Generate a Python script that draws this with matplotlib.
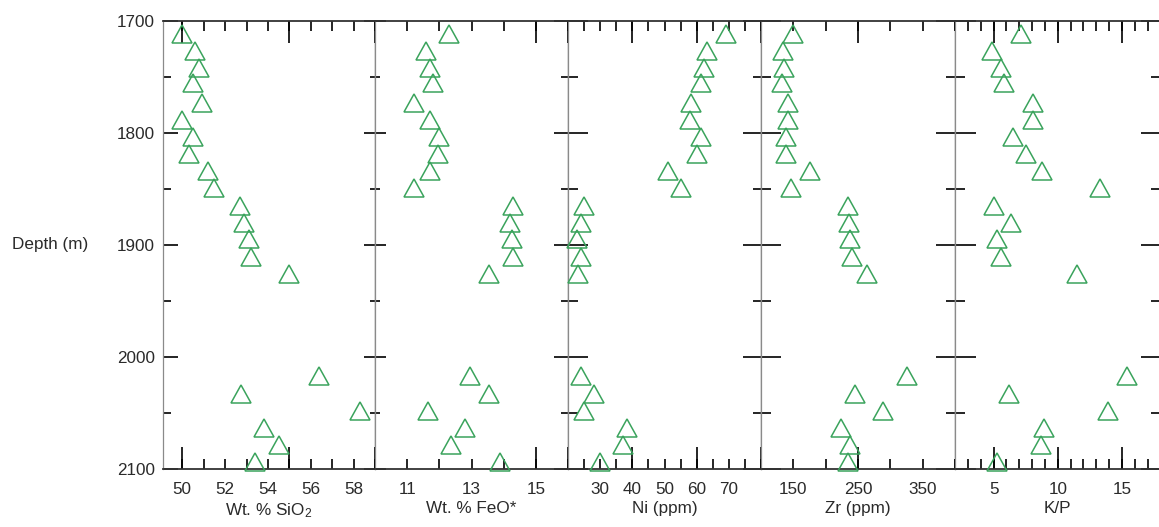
import matplotlib
matplotlib.use('Agg')
import matplotlib.pyplot as plt
from matplotlib.ticker import MultipleLocator, FuncFormatter, NullFormatter
from matplotlib.markers import MarkerStyle
from matplotlib.transforms import Affine2D

plt.rcParams['font.family'] = ['Liberation Sans', 'DejaVu Sans']
plt.rcParams['mathtext.default'] = 'regular'

# sample depths (m), shared by every panel
depth = [1712, 1727, 1742, 1755, 1773, 1788, 1804, 1819, 1834, 1849, 1865,
         1880, 1895, 1911, 1926, 2017, 2033, 2048, 2063, 2079, 2094]

sio2 = [50.0, 50.6, 50.8, 50.5, 50.9, 50.0, 50.5, 50.3, 51.2, 51.5, 52.7,
        52.9, 53.1, 53.2, 55.0, 56.4, 52.75, 58.3, 53.8, 54.5, 53.4]
feo = [12.3, 11.6, 11.7, 11.8, 11.2, 11.7, 12.0, 11.95, 11.7, 11.2, 14.3,
       14.2, 14.25, 14.3, 13.55, 12.95, 13.55, 11.65, 12.8, 12.35, 13.9]
ni = [69.2, 63.2, 62.2, 61.2, 58.1, 58.0, 61.2, 60.2, 51.1, 55.2, 24.9,
      23.9, 22.8, 23.9, 23.1, 24.0, 28.2, 25.1, 38.2, 37.1, 30.0]
zr = [149, 134, 136, 132, 141, 141, 139, 139, 176, 147, 234,
      236, 237, 240, 264, 326, 245, 288, 224, 237, 234]
kp = [7.1, 4.9, 5.6, 5.8, 8.1, 8.1, 6.5, 7.5, 8.75, 13.3, 5.0,
      6.35, 5.3, 5.6, 11.5, 15.4, 6.2, 13.9, 8.9, 8.7, 5.3]

xlabels = ['Wt. % SiO$_2$', 'Wt. % FeO*', 'Ni (ppm)', 'Zr (ppm)', 'K/P']
xlims = [(49.1, 59), (10, 16), (20, 80), (100, 400), (2, 18)]
long_step = [5, 5, 20, 250, 5]
short_step = [1, 1, 5, 50, 1]
tick_labels = [[50, 52, 54, 56, 58], [11, 13, 15], [30, 40, 50, 60, 70],
               [150, 250, 350], [5, 10, 15]]

W, H = 1159, 527
edges = [163, 375, 568, 761, 955, 1160.5]
top, bot = 21, 469
# y tick lengths in px: (left major, left minor, right major, right minor)
ytl = [(15, 8, 11, 5), (11, 5, 14, 7), (20, 10, 18, 8), (20, 10, 19, 9), (21, 10, 20, 10)]

green = '#3aa35c'
grey = '#8a8a8a'
txt = '#2a2a2a'
tri = MarkerStyle('^', transform=Affine2D().scale(1, 0.866))
px = 0.72

fig = plt.figure(figsize=(W / 100, H / 100), dpi=100)
series = [sio2, feo, ni, zr, kp]

for i in range(5):
    ax = fig.add_axes([edges[i] / W, (H - bot) / H, (edges[i + 1] - edges[i]) / W, (bot - top) / H])
    ax.plot(series[i], depth, linestyle='none', marker=tri, ms=14.4, mfc='none',
            mec=green, mew=1.1, clip_on=False, zorder=3)
    ax.set_xlim(*xlims[i])
    ax.set_ylim(2100, 1700)

    for s in ['top', 'bottom']:
        ax.spines[s].set_color('#333333')
        ax.spines[s].set_linewidth(1.3)
    for s in ['left', 'right']:
        ax.spines[s].set_color(grey)
        ax.spines[s].set_linewidth(0.9)

    # x ticks: long ones unlabeled, short ones carry the labels
    labs = tick_labels[i]
    ax.xaxis.set_major_locator(MultipleLocator(long_step[i]))
    ax.xaxis.set_minor_locator(MultipleLocator(short_step[i]))
    ax.xaxis.remove_overlapping_locs = False
    ax.xaxis.set_major_formatter(NullFormatter())
    ax.xaxis.set_minor_formatter(FuncFormatter(
        lambda v, pos, labs=labs: f'{v:g}' if any(abs(v - l) < 1e-6 for l in labs) else ''))
    ax.tick_params(axis='x', which='both', direction='in', top=True, bottom=True,
                   width=1.2, color='black', labelsize=12.3, labelcolor=txt, pad=9.5)
    ax.tick_params(axis='x', which='major', length=22 * px)
    ax.tick_params(axis='x', which='minor', length=10 * px)
    ax.set_xlabel(xlabels[i], fontsize=12.3, color=txt, labelpad=3)

    # y ticks, left side
    lm, ln, rm, rn = ytl[i]
    ax.yaxis.set_major_locator(MultipleLocator(100))
    ax.yaxis.set_minor_locator(MultipleLocator(50))
    ax.tick_params(axis='y', which='both', direction='in', left=True, right=False,
                   width=1.2, color='black', labelleft=(i == 0), labelsize=12.3,
                   labelcolor=txt, pad=8 * px)
    ax.tick_params(axis='y', which='major', length=lm * px)
    ax.tick_params(axis='y', which='minor', length=ln * px)

    # y ticks, right side
    sec = ax.secondary_yaxis('right')
    sec.yaxis.set_major_locator(MultipleLocator(100))
    sec.yaxis.set_minor_locator(MultipleLocator(50))
    sec.yaxis.set_major_formatter(NullFormatter())
    sec.tick_params(axis='y', which='both', direction='in', width=1.2, color='black')
    sec.tick_params(axis='y', which='major', length=rm * px)
    sec.tick_params(axis='y', which='minor', length=rn * px)
    sec.spines['right'].set_color(grey)
    sec.spines['right'].set_linewidth(0.9)

    if i == 0:
        ax.set_ylabel('Depth (m)', rotation=0, ha='left', va='center', fontsize=12.3, color=txt)
        ax.yaxis.set_label_coords((12 - 163) / (edges[1] - edges[0]), 0.5)

fig.savefig('out.png', dpi=100)
